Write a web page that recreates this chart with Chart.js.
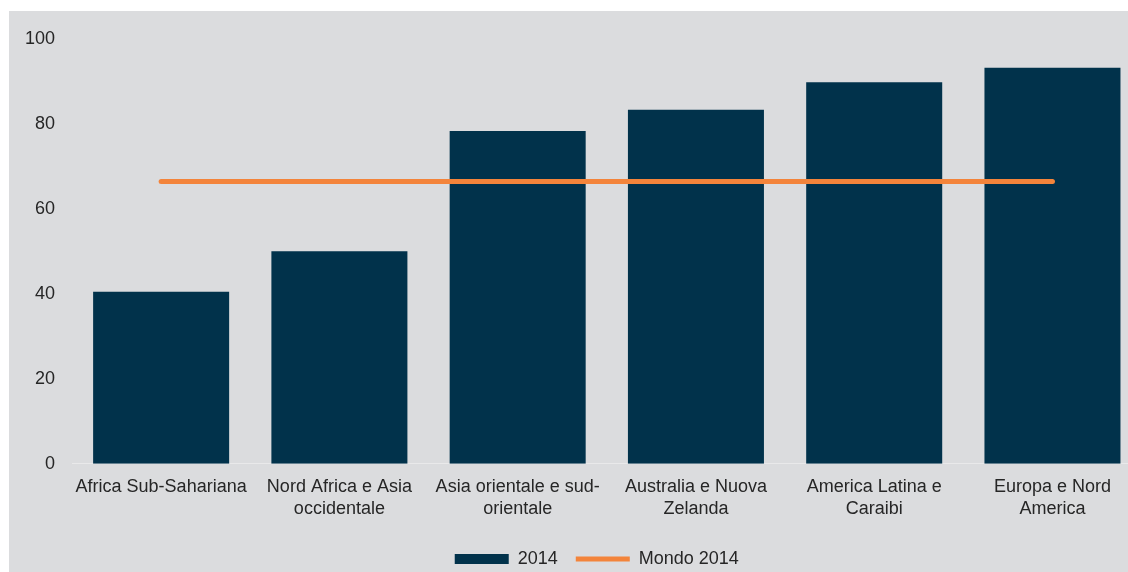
<!DOCTYPE html>
<html>
<head>
<meta charset="utf-8">
<script src="https://cdn.jsdelivr.net/npm/chart.js@4.4.1/dist/chart.umd.min.js"></script>
<style>
  html, body { margin: 0; padding: 0; background: #ffffff; overflow: hidden; width: 1128px; height: 572px; }
  #c { position: absolute; left: 9px; top: 11px; background: #dbdcde; }
</style>
</head>
<body>
<canvas id="c" width="1150" height="561"></canvas>
<script>
const categories = [
  ["Africa Sub-Sahariana"],
  ["Nord Africa e Asia", "occidentale"],
  ["Asia orientale e sud-", "orientale"],
  ["Australia e Nuova", "Zelanda"],
  ["America Latina e", "Caraibi"],
  ["Europa e Nord", "America"]
];
const values2014 = [40.5, 50.0, 78.3, 83.3, 89.8, 93.2];
const mondo2014 = [66.4, 66.4, 66.4, 66.4, 66.4, 66.4];
const yTicks = [0, 20, 40, 60, 80, 100];

const FONT = "'Liberation Sans', Arial, sans-serif";
Chart.defaults.font.family = FONT;
Chart.defaults.font.size = 18;
Chart.defaults.color = '#262626';

const legendShift = {
  id: 'legendShift',
  afterLayout(chart) {
    const lg = chart.legend;
    if (lg) { lg.left -= 10; lg.right -= 10; }
  }
};

new Chart(document.getElementById('c'), {
  type: 'bar',
  data: {
    labels: categories,
    datasets: [
      {
        label: '2014',
        data: values2014,
        backgroundColor: '#01324b',
        borderWidth: 0,
        categoryPercentage: 1,
        barPercentage: 0.763,
        order: 1,
        pointStyle: 'rect'
      },
      {
        type: 'line',
        label: 'Mondo 2014',
        data: mondo2014,
        borderColor: '#f3843b',
        backgroundColor: '#f3843b',
        borderWidth: 5,
        borderCapStyle: 'round',
        pointRadius: 0,
        pointHoverRadius: 0,
        fill: false,
        order: 0,
        pointStyle: 'line'
      }
    ]
  },
  plugins: [legendShift],
  options: {
    responsive: false,
    animation: false,
    layout: { padding: { left: 0, right: 17.4, top: 27.5, bottom: -6 } },
    plugins: {
      tooltip: { enabled: false },
      legend: {
        position: 'bottom',
        fullSize: false,
        labels: {
          usePointStyle: true,
          pointStyleWidth: 54,
          boxHeight: 10,
          padding: 18,
          sort: (a, b) => a.datasetIndex - b.datasetIndex,
          font: { size: 18, family: FONT },
          color: '#262626'
        }
      }
    },
    scales: {
      x: {
        offset: true,
        grid: { display: false, drawTicks: false },
        border: { display: true, color: '#e9e9ea', width: 1 },
        ticks: { maxRotation: 0, minRotation: 0, autoSkip: false, padding: 12.5, color: '#262626', font: { size: 18, family: FONT } }
      },
      y: {
        min: 0,
        max: 100,
        afterFit: s => { s.width = 63; },
        afterBuildTicks: s => { s.ticks = yTicks.map(v => ({ value: v })); },
        grid: { display: false, drawTicks: false },
        border: { display: false },
        ticks: { padding: 17, color: '#262626', font: { size: 18, family: FONT } }
      }
    }
  }
});
</script>
</body>
</html>
